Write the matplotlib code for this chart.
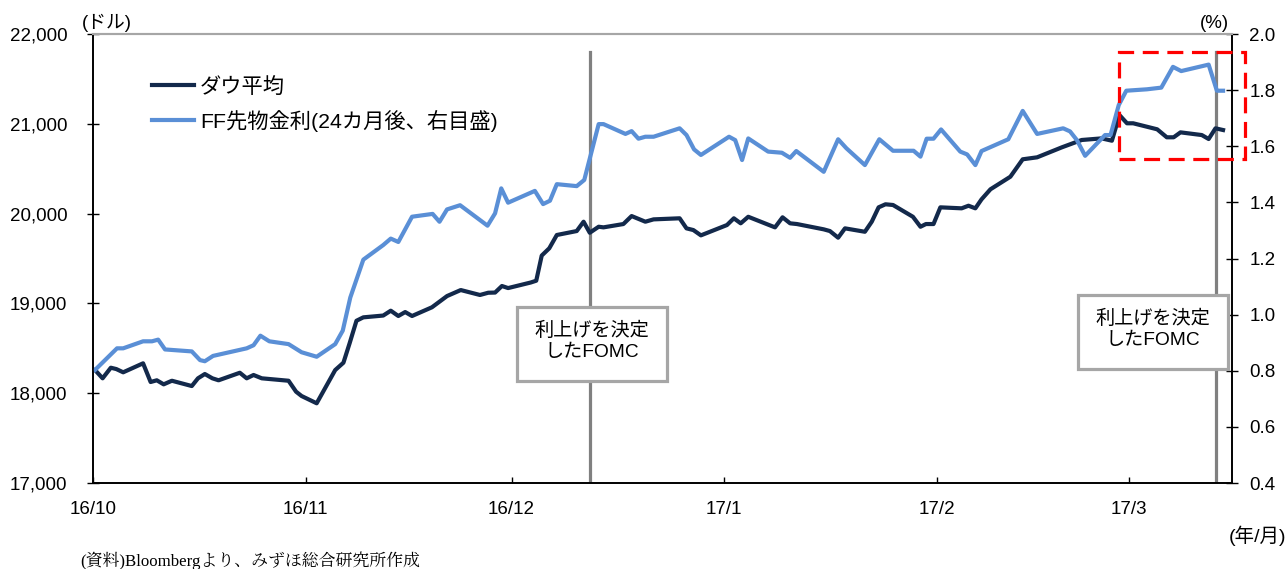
import matplotlib
matplotlib.use("Agg")
import matplotlib.pyplot as plt
from matplotlib.patches import Rectangle
from matplotlib.ticker import FixedLocator, FuncFormatter

plt.rcParams['font.family'] = ['Liberation Sans', 'Noto Sans CJK JP']

# x axis is in days counted from 2016-10-01
month_days = [0, 31, 61, 92, 123, 151]
month_labels = ["16/10", "16/11", "16/12", "17/1", "17/2", "17/3"]
x_end = 166.0

dow_day = [0.3, 1.4, 2.6, 3.4, 4.4, 7.3, 8.4, 9.3, 10.3, 11.5,
           14.4, 15.3, 16.3, 17.4, 18.3, 21.4, 22.4, 23.4, 24.6, 28.5,
           29.6, 30.4, 32.6, 35.3, 36.5, 37.4, 38.4, 39.4, 42.3, 43.4,
           44.5, 45.5, 46.5, 49.4, 51.6, 53.6, 56.4, 57.6, 58.6, 59.6,
           60.5, 63.8, 64.6, 65.4, 66.5, 67.6, 70.5, 71.5, 72.4, 73.7,
           74.4, 77.3, 78.5, 80.5, 81.7, 85.5, 86.5, 87.5, 88.6, 92.4,
           93.4, 94.4, 95.5, 99.4, 100.5, 101.6, 102.6, 106.5, 107.4, 108.6,
           109.6, 112.5, 113.5, 114.5, 115.5, 116.6, 119.5, 120.6, 121.4, 122.5,
           123.5, 126.6, 127.6, 128.6, 129.5, 130.8, 133.7, 135.5, 137.6, 141.2,
           144.1, 147.0, 148.5, 149.6, 150.7, 151.6, 155.1, 156.5, 157.5, 158.5,
           161.6, 162.6, 163.6, 164.7]
dow = [18258, 18166, 18284, 18269, 18233, 18333, 18125, 18144, 18099, 18139,
       18080, 18166, 18214, 18166, 18144, 18228, 18166, 18203, 18166, 18139,
       18017, 17969, 17888, 18258, 18340, 18556, 18807, 18845, 18865, 18919,
       18860, 18904, 18860, 18957, 19082, 19149, 19094, 19119, 19121, 19194,
       19171, 19233, 19253, 19533, 19614, 19762, 19806, 19910, 19787, 19854,
       19847, 19884, 19973, 19910, 19936, 19948, 19836, 19817, 19758, 19873,
       19948, 19892, 19965, 19847, 19959, 19892, 19884, 19825, 19806, 19732,
       19836, 19798, 19910, 20070, 20104, 20096, 19965, 19854, 19884, 19884,
       20070, 20059, 20088, 20059, 20159, 20271, 20411, 20605, 20627, 20738,
       20820, 20838, 20812, 21098, 21006, 21006, 20939, 20850, 20850, 20905,
       20875, 20831, 20950, 20931]

ff_day = [0.3, 3.5, 4.4, 7.3, 8.6, 9.5, 10.5, 14.4, 15.6, 16.3,
          17.5, 22.4, 23.4, 24.4, 25.7, 28.5, 30.4, 32.6, 35.3, 36.4,
          37.5, 39.4, 42.3, 43.4, 44.5, 46.5, 49.5, 50.5, 51.6, 53.5,
          57.5, 58.6, 59.5, 60.5, 64.4, 65.6, 66.6, 67.6, 70.5, 71.6,
          73.7, 74.4, 77.6, 78.5, 79.5, 80.5, 81.7, 85.5, 86.5, 87.6,
          88.6, 92.7, 93.6, 94.6, 95.5, 98.4, 100.4, 101.6, 102.5, 106.5,
          108.6, 109.8, 112.5, 114.6, 116.6, 119.6, 120.6, 121.5, 122.5, 123.6,
          126.4, 127.4, 128.6, 129.5, 133.4, 135.5, 137.6, 141.4, 142.4, 143.4,
          144.6, 147.5, 148.3, 149.5, 150.6, 153.6, 155.7, 157.4, 158.6, 162.6,
          163.8, 164.7]
ff_rate = [0.803, 0.880, 0.880, 0.905, 0.905, 0.911, 0.876, 0.869, 0.838, 0.834,
           0.853, 0.880, 0.891, 0.925, 0.905, 0.895, 0.866, 0.850, 0.895, 0.943,
           1.061, 1.196, 1.248, 1.271, 1.259, 1.349, 1.359, 1.331, 1.375, 1.390,
           1.317, 1.361, 1.450, 1.399, 1.441, 1.394, 1.406, 1.465, 1.458, 1.480,
           1.679, 1.679, 1.644, 1.654, 1.627, 1.634, 1.634, 1.664, 1.640, 1.589,
           1.569, 1.634, 1.622, 1.551, 1.628, 1.581, 1.577, 1.559, 1.583, 1.509,
           1.625, 1.593, 1.533, 1.625, 1.584, 1.584, 1.563, 1.627, 1.627, 1.660,
           1.581, 1.571, 1.533, 1.583, 1.625, 1.726, 1.644, 1.664, 1.653, 1.622,
           1.566, 1.640, 1.640, 1.747, 1.798, 1.803, 1.809, 1.883, 1.868, 1.891,
           1.798, 1.798]

fomc_day = [72.4, 163.7]

navy = '#13294b'
blue = '#5a8fd6'

fig = plt.figure(figsize=(12.88, 5.69), dpi=100)
ax = fig.add_axes([0.0722, 0.1511, 0.8843, 0.7891])
ax2 = ax.twinx()

for d in fomc_day:
    ax.axvline(d, ymin=0, ymax=0.96, color='#808080', lw=2.3, zorder=1)

l1, = ax.plot(dow_day, dow, color=navy, lw=3.0, solid_joinstyle='round', zorder=2)
l2, = ax2.plot(ff_day, ff_rate, color=blue, lw=3.0, solid_joinstyle='round', zorder=2)

ax.set_xlim(0, x_end)
ax.set_ylim(17000, 22000)
ax2.set_ylim(0.4, 2.0)

ax.xaxis.set_major_locator(FixedLocator(month_days))
ax.set_xticklabels(month_labels)
ax.set_yticks(range(17000, 22001, 1000))
ax.yaxis.set_major_formatter(FuncFormatter(lambda v, p: f"{int(v):,}"))
ax2.set_yticks([0.4, 0.6, 0.8, 1.0, 1.2, 1.4, 1.6, 1.8, 2.0])
ax2.yaxis.set_major_formatter(FuncFormatter(lambda v, p: f"{v:.1f}"))

ax.tick_params(axis='x', direction='in', length=4, width=1, labelsize=13.5, pad=13)
ax.tick_params(axis='y', direction='inout', length=9, width=1, labelsize=13.5, pad=14)
ax2.tick_params(axis='y', direction='inout', length=9, width=1, labelsize=13.5, pad=8)

for a in (ax, ax2):
    a.spines['top'].set_color('#a6a6a6')
    a.spines['top'].set_linewidth(1.5)
    for s in ('left', 'bottom', 'right'):
        a.spines[s].set_color('black')
        a.spines[s].set_linewidth(1.2)

# rate-hike callouts
box_w, box_h = 0.1317, 0.1648
for x0, y0 in [(0.372, 0.2278), (0.8645, 0.2532)]:
    ax2.add_patch(Rectangle((x0, y0), box_w, box_h, transform=ax2.transAxes,
                            facecolor='white', edgecolor='#a6a6a6', lw=2.3, zorder=5))
    ax2.text(x0 + box_w / 2, y0 + box_h / 2 + 0.006, "利上げを決定\nしたFOMC",
             transform=ax2.transAxes, ha='center', va='center', fontsize=13.8,
             linespacing=1.3, zorder=6)

# highlight of the latest move
ax2.add_patch(Rectangle((149.6, 1.553), 18.3, 0.382, fill=False, edgecolor='#ff0000',
                        lw=2.3, linestyle=(0, (5, 2.7)), clip_on=False, zorder=7))

ax2.legend([l1, l2], ["ダウ平均", "FF先物金利(24カ月後、右目盛)"], loc='upper left',
           bbox_to_anchor=(0.0518, 0.905), frameon=False, fontsize=15.3,
           handlelength=2.0, handletextpad=0.25, labelspacing=0.62,
           borderpad=0, borderaxespad=0)

fig.text(107 / 1288, 1 - 23 / 569, "(ドル)", ha='center', va='center', fontsize=13.5)
fig.text(1214 / 1288, 1 - 23 / 569, "(%)", ha='center', va='center', fontsize=13.5)
fig.text(1286 / 1288, 1 - 536 / 569, "(年/月)", ha='right', va='center', fontsize=14)
fig.text(80 / 1288, 1 - 561 / 569, "(資料)Bloombergより、みずほ総合研究所作成",
         ha='left', va='center', fontsize=12.2,
         family=['Liberation Serif', 'Noto Serif CJK JP', 'Noto Sans CJK JP'])

fig.savefig("out.png", dpi=100)
